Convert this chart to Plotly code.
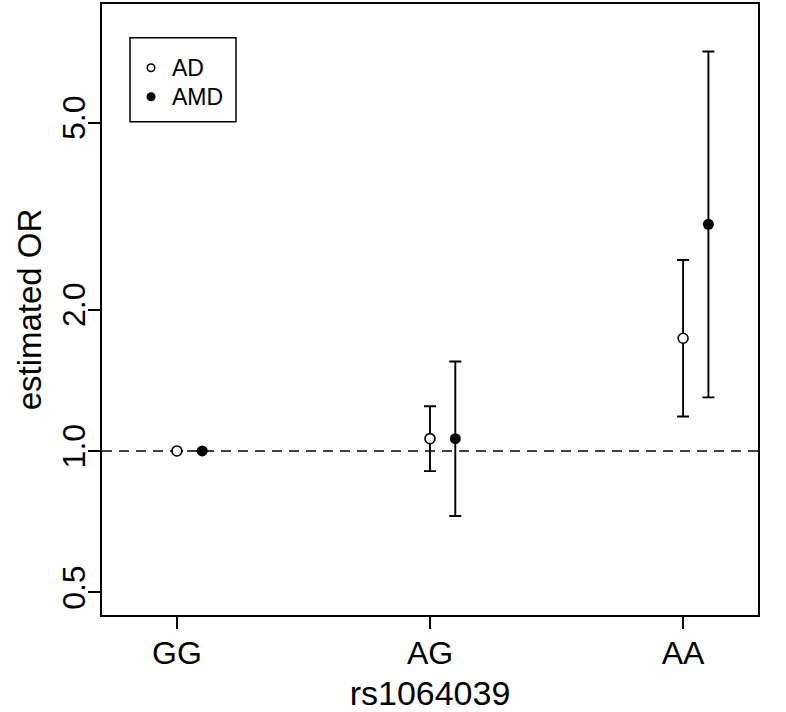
import plotly.graph_objects as go

categories = ["GG", "AG", "AA"]
series_names = ["AD", "AMD"]
ad_or = [1.0, 1.062, 1.737]
ad_lo = [None, 0.906, 1.184]
ad_hi = [None, 1.245, 2.55]
amd_or = [1.0, 1.062, 3.036]
amd_lo = [None, 0.727, 1.30]
amd_hi = [None, 1.55, 7.08]
y_tickvals = [0.5, 1.0, 2.0, 5.0]
y_ticktext = ["0.5", "1.0", "2.0", "5.0"]
reference_or = 1.0

FONT = "Liberation Sans, Arial, Helvetica, sans-serif"
W, H = 786, 712
L, R, T, B = 102, 28, 4, 97
pw, ph = W - L - R, H - T - B


def px2paper(x, y):
    return (x - L) / pw, (H - B - y) / ph


def err(vals, lo, hi):
    plus = [0 if h is None else h - v for v, h in zip(vals, hi)]
    minus = [0 if l is None else v - l for v, l in zip(vals, lo)]
    return plus, minus


xpos = [i + 1 for i in range(len(categories))]
offset = 0.1
xlim = [0.8, 3.2]
ext = 0.04 * (xlim[1] - xlim[0])

fig = go.Figure()
p, m = err(ad_or, ad_lo, ad_hi)
fig.add_trace(go.Scatter(
    x=xpos, y=ad_or, mode="markers", name=series_names[0], showlegend=False,
    marker=dict(symbol="circle", size=10, color="white", line=dict(color="black", width=1.6)),
    error_y=dict(type="data", symmetric=False, array=p, arrayminus=m,
                 color="black", thickness=1.9, width=6),
))
p, m = err(amd_or, amd_lo, amd_hi)
fig.add_trace(go.Scatter(
    x=[x + offset for x in xpos], y=amd_or, mode="markers", name=series_names[1], showlegend=False,
    marker=dict(symbol="circle", size=11, color="black", line=dict(color="black", width=0)),
    error_y=dict(type="data", symmetric=False, array=p, arrayminus=m,
                 color="black", thickness=1.9, width=6),
))

shapes = [dict(type="line", xref="paper", x0=0, x1=1, yref="y", y0=reference_or, y1=reference_or,
               line=dict(color="black", width=1.6, dash="10px,7px"), layer="below")]

# legend box
x0, y0 = px2paper(130, 121.7)
x1, y1 = px2paper(236, 37.7)
shapes.append(dict(type="rect", xref="paper", yref="paper", x0=x0, x1=x1, y0=y0, y1=y1,
                   line=dict(color="black", width=1.5), fillcolor="white"))
annotations = []
leg_rows = [67.7, 96.7]
for i, name in enumerate(series_names):
    cx, cy = px2paper(151, leg_rows[i])
    if i == 0:
        shapes.append(dict(type="circle", xref="paper", yref="paper", xsizemode="pixel", ysizemode="pixel",
                           xanchor=cx, yanchor=cy, x0=-3.8, x1=3.8, y0=-3.8, y1=3.8,
                           line=dict(color="black", width=1.5), fillcolor="white"))
    else:
        shapes.append(dict(type="circle", xref="paper", yref="paper", xsizemode="pixel", ysizemode="pixel",
                           xanchor=cx, yanchor=cy, x0=-4.5, x1=4.5, y0=-4.5, y1=4.5,
                           line=dict(color="black", width=0), fillcolor="black"))
    tx, ty = px2paper(170, leg_rows[i])
    annotations.append(dict(text=name, xref="paper", yref="paper", x=tx, y=ty, xanchor="left",
                            yanchor="middle", showarrow=False, font=dict(size=23, color="black", family=FONT)))

fig.update_layout(
    width=W, height=H, margin=dict(l=L, r=R, t=T, b=B, autoexpand=False),
    paper_bgcolor="white", plot_bgcolor="white",
    font=dict(family=FONT, color="black", size=32),
    shapes=shapes, annotations=annotations, showlegend=False,
)
fig.update_xaxes(
    range=[xlim[0] - ext, xlim[1] + ext], tickvals=xpos, ticktext=categories, automargin=False,
    ticklabelstandoff=-3,
    showgrid=False, zeroline=False, showline=True, linecolor="black", linewidth=1.5, mirror=True,
    ticks="outside", ticklen=12, tickwidth=1.5, tickcolor="black",
    tickfont=dict(size=32), title=dict(text="rs1064039", font=dict(size=34), standoff=11),
)
fig.update_yaxes(
    type="log", range=[-0.34919, 0.95125], tickvals=y_tickvals, ticktext=y_ticktext, tickangle=-90,
    automargin=False, ticklabelstandoff=-10,
    showgrid=False, zeroline=False, showline=True, linecolor="black", linewidth=1.5, mirror=True,
    ticks="outside", ticklen=12, tickwidth=1.5, tickcolor="black",
    tickfont=dict(size=32), title=dict(text="estimated OR", font=dict(size=33), standoff=5),
)
fig.write_html("out.html", config={"displayModeBar": False},
               post_script="document.body.style.margin='0';document.body.style.overflow='hidden';")
